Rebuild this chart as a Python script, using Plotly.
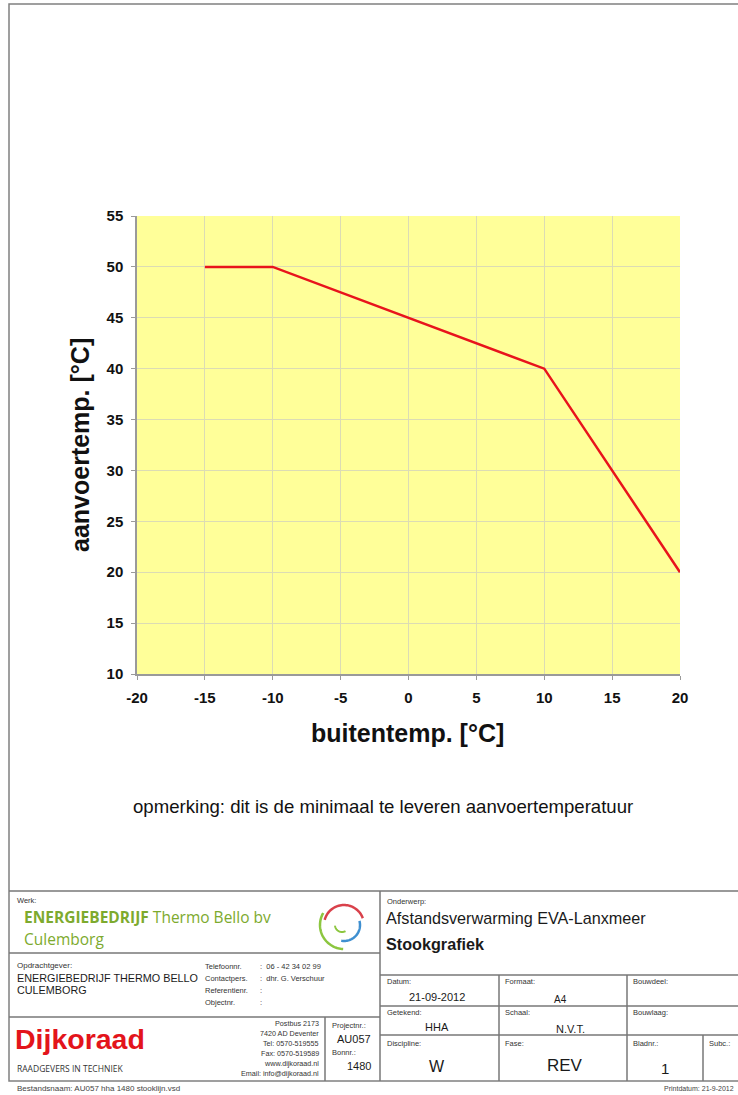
import numpy as np
import plotly.graph_objects as go

# ---------------- data ----------------
outdoor_temp = [-15, -10, 10, 20]          # buitentemp. [°C]
supply_temp = [50, 50, 40, 20]             # aanvoertemp. [°C]
x_ticks = [-20, -15, -10, -5, 0, 5, 10, 15, 20]
y_ticks = [10, 15, 20, 25, 30, 35, 40, 45, 50, 55]
x_tick_labels = [str(v) for v in x_ticks]
y_tick_labels = [str(v) for v in y_ticks]

# ---------------- page geometry (pixels) ----------------
W, H = 738, 1095
L, T = 137, 216
PW, PH = 543, 458
R = W - L - PW
B = H - T - PH


def fx(px):
    return (px - L) / PW


def fy(py):
    return (T + PH - py) / PH


ARIAL = "Arial, Liberation Sans, sans-serif"
SANS2 = "Open Sans, Lato, sans-serif"

fig = go.Figure()
fig.add_trace(go.Scatter(
    x=outdoor_temp, y=supply_temp, mode="lines",
    line=dict(color="#E8141C", width=2.5), showlegend=False, hoverinfo="x+y"))

axis_common = dict(
    showgrid=True, gridcolor="#DCDCB4", gridwidth=1,
    showline=True, linecolor="#9A9A9A", linewidth=1.5,
    ticks="outside", ticklen=4, tickcolor="#9A9A9A", tickwidth=1.2,
    tickfont=dict(family=ARIAL, size=15, color="#111111", weight="bold"),
    ticklabelstandoff=5,
    zeroline=False, fixedrange=True,
)
fig.update_xaxes(range=[-20, 20], tickvals=x_ticks, ticktext=x_tick_labels, **axis_common)
fig.update_yaxes(range=[10, 55], tickvals=y_ticks, ticktext=y_tick_labels, **axis_common)

shapes = []
annotations = []


def line(x0, y0, x1, y1, color="#777777", width=1.5):
    shapes.append(dict(type="line", xref="paper", yref="paper",
                       x0=fx(x0), y0=fy(y0), x1=fx(x1), y1=fy(y1),
                       line=dict(color=color, width=width), layer="above"))


def text(s, px, py, size, anchor="left", color="#1A1A1A", family=ARIAL, angle=0):
    annotations.append(dict(text=s, xref="paper", yref="paper", x=fx(px), y=fy(py),
                            xanchor=anchor, yanchor="middle", showarrow=False,
                            textangle=angle,
                            font=dict(family=family, size=size, color=color)))


def arc(cx, cy, r, a0, a1, color, width):
    a = np.radians(np.linspace(a0, a1, 40))
    xs = cx + r * np.cos(a)
    ys = cy - r * np.sin(a)
    path = "M " + " L ".join(f"{fx(x):.5f},{fy(y):.5f}" for x, y in zip(xs, ys))
    shapes.append(dict(type="path", xref="paper", yref="paper", path=path,
                       line=dict(color=color, width=width), layer="above"))


# outer page border
shapes.append(dict(type="rect", xref="paper", yref="paper",
                   x0=fx(9), y0=fy(4), x1=fx(760), y1=fy(1081),
                   line=dict(color="#808080", width=1.5), fillcolor="rgba(0,0,0,0)"))

# title block frame
line(9, 891, 760, 891)
line(380, 891, 380, 1081)
line(9, 953, 380, 953)
line(9, 1017, 380, 1017)
line(325, 1017, 325, 1081)
line(380, 975, 760, 975)
line(380, 1006, 760, 1006)
line(380, 1035, 760, 1035)
line(499, 975, 499, 1081)
line(627, 975, 627, 1081)
line(703, 1035, 703, 1081)

# axis titles and remark
text("<b>aanvoertemp. [°C]</b>", 80, 445, 25, anchor="center", color="#111111", angle=-90)
text("<b>buitentemp. [°C]</b>", 407, 733, 25, anchor="center", color="#111111")
text("opmerking: dit is de minimaal te leveren aanvoertemperatuur", 383, 806, 18.6,
     anchor="center", color="#111111")

# left column
text("Werk:", 15, 900, 7.5, color="#333333")
text("<b>ENERGIEBEDRIJF</b> Thermo Bello bv", 22, 917, 15.5, color="#7DAA2E", family=SANS2)
text("Culemborg", 22, 939, 15.5, color="#7DAA2E", family=SANS2)

arc(344, 925, 20, 165, 20, "#D9414B", 2.5)
arc(344, 925, 16, 15, -100, "#3E8FD0", 2.5)
arc(344, 925, 24, 150, 268, "#8CC63F", 2.5)
arc(342, 925, 7, 185, 300, "#8CC63F", 2)

text("Opdrachtgever:", 15, 965, 8, color="#333333")
text("ENERGIEBEDRIJF THERMO BELLO", 15, 978, 10.8)
text("CULEMBORG", 15, 990, 10.8)
for i, (lab, val) in enumerate([("Telefoonnr.", ":  06 - 42 34 02 99"),
                                ("Contactpers.", ":  dhr. G. Verschuur"),
                                ("Referentienr.", ":"),
                                ("Objectnr.", ":")]):
    text(lab, 203, 966 + 12 * i, 7.5, color="#333333")
    text(val, 258, 966 + 12 * i, 7.5, color="#333333")

text("<b>Dijkoraad</b>", 13, 1039, 28.5, color="#E3141B")
text("RAADGEVERS IN TECHNIEK", 15, 1068, 8.5, color="#333333", family=SANS2)
for i, s in enumerate(["Postbus 2173", "7420 AD Deventer", "Tel: 0570-519555",
                       "Fax: 0570-519589", "www.dijkoraad.nl", "Email: info@dijkoraad.nl"]):
    text(s, 321, 1023 + 10 * i, 7.2, anchor="right", color="#333333")
text("Projectnr.:", 330, 1025, 7.5, color="#333333")
text("AU057", 373, 1039, 11, anchor="right")
text("Bonnr.:", 330, 1052, 7.5, color="#333333")
text("1480", 373, 1066, 11, anchor="right")

# right column
text("Onderwerp:", 385, 901, 7.5, color="#333333")
text("Afstandsverwarming EVA-Lanxmeer", 384, 918, 16.2)
text("<b>Stookgrafiek</b>", 384, 944, 16.2)

text("Datum:", 385, 981, 7.5, color="#333333")
text("21-09-2012", 437, 997, 11, anchor="center")
text("Formaat:", 503, 981, 7.5, color="#333333")
text("A4", 560, 999, 10, anchor="center")
text("Bouwdeel:", 631, 981, 7.5, color="#333333")

text("Getekend:", 385, 1012, 7.5, color="#333333")
text("HHA", 437, 1027, 11, anchor="center")
text("Schaal:", 503, 1012, 7.5, color="#333333")
text("N.V.T.", 570, 1029, 11, anchor="center")
text("Bouwlaag:", 631, 1012, 7.5, color="#333333")

text("Discipline:", 385, 1043, 7.5, color="#333333")
text("W", 437, 1066, 16, anchor="center")
text("Fase:", 503, 1043, 7.5, color="#333333")
text("REV", 565, 1065, 17, anchor="center")
text("Bladnr.:", 631, 1043, 7.5, color="#333333")
text("1", 665, 1068, 15, anchor="center")
text("Subc.:", 707, 1043, 7.5, color="#333333")

# footer
text("Bestandsnaam: AU057 hha 1480 stooklijn.vsd", 15, 1088, 8, color="#444444")
text("Printdatum: 21-9-2012", 736, 1088, 7, anchor="right", color="#444444")

fig.update_layout(
    width=W, height=H, autosize=False,
    margin=dict(l=L, r=R, t=T, b=B, pad=0),
    paper_bgcolor="white", plot_bgcolor="#FFFF99",
    showlegend=False,
    shapes=shapes, annotations=annotations,
)

fig.write_html("out.html", config={"displayModeBar": False},
               post_script="document.body.style.margin='0';")
